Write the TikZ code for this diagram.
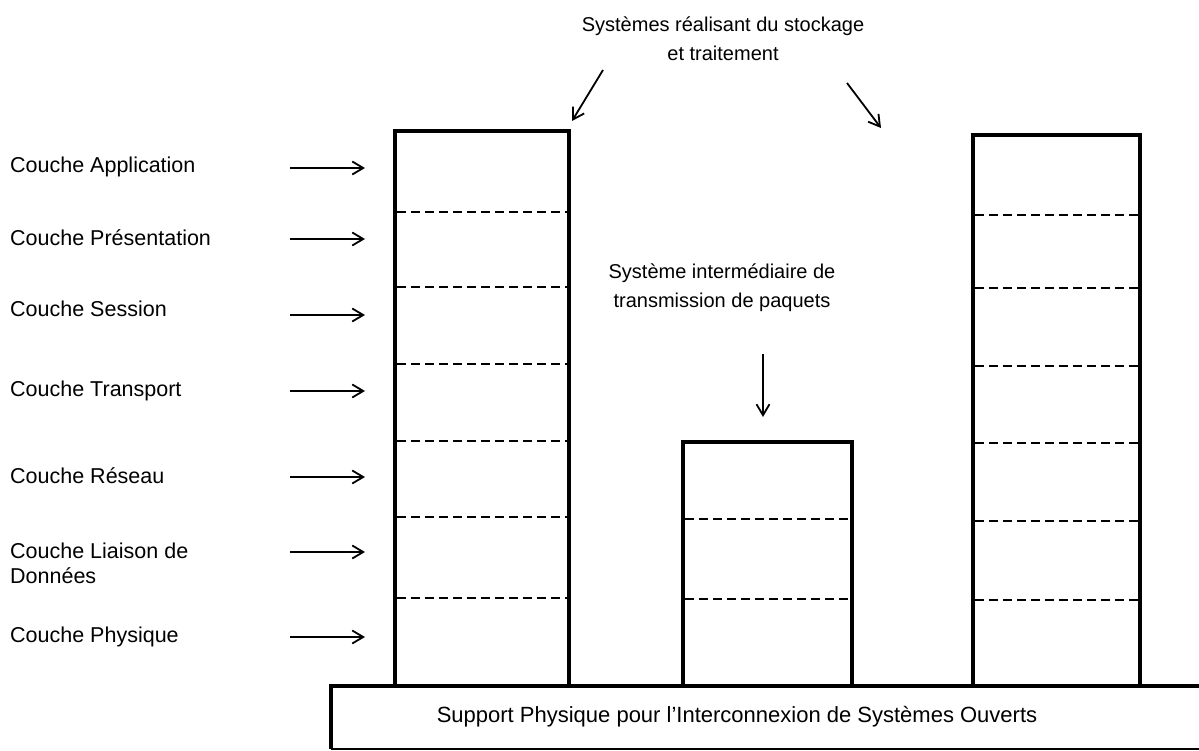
\documentclass[tikz,border=0pt]{standalone}
\usepackage{fontspec}
\setmainfont{Liberation Sans}
\usetikzlibrary{arrows.meta}
\begin{document}
\begin{tikzpicture}[x=1pt,y=-1pt,
  lbl/.style={anchor=west,inner sep=0pt,font=\fontsize{21.5}{25}\selectfont},
  caption/.style={align=center,inner sep=0pt,font=\fontsize{20}{29}\selectfont},
  stack/.style={line width=3.6pt,line join=miter},
  layer/.style={line width=1.8pt,dash pattern=on 9pt off 5pt},
  ptr/.style={line width=1.8pt,-{Straight Barb[length=11pt,width=13pt,line width=1.8pt]}}]
\useasboundingbox (0,0) rectangle (1199,751);
\fill[white] (0,0) rectangle (1199,751);

% layer names and their arrows
\foreach \n/\t/\y in {app/Couche Application/167, pres/Couche Présentation/238,
    sess/Couche Session/309, tran/Couche Transport/391, res/Couche Réseau/476,
    phy/Couche Physique/637}{
  \node[lbl] (\n) at (10,\y) {\t};
}
\node[lbl,align=left] (liai) at (10,563) {Couche Liaison de\\Données};
\foreach \n/\y in {a/168,b/239,c/315,d/391,e/477,f/552,g/637}{
  \coordinate (\n0) at (290,\y);
  \coordinate (\n1) at (365,\y);
  \draw[ptr] (\n0) -- (\n1);
}

% physical medium
\coordinate (sTL) at (331,686);
\coordinate (sTR) at (1199,686);
\coordinate (sBL) at (331,749);
\coordinate (sBR) at (1199,749);
\draw[line width=3.4pt] (sTR) -- (sTL) -- (sBL);
\draw[line width=1.2pt] (sBL) -- (sBR);
\node[inner sep=0pt,font=\fontsize{22}{25}\selectfont] (supp) at (737,717)
  {Support Physique pour l'Interconnexion de Systèmes Ouverts};

% left end system
\draw[stack] (395,686) -- (395,131) -- (569,131) -- (569,686);
\foreach \y in {212,287,364,441,517,598}{
  \draw[layer] (397,\y) -- (567,\y);
}
\coordinate (ltop) at (572,121);

% right end system
\draw[stack] (973,686) -- (973,135) -- (1140,135) -- (1140,686);
\foreach \y in {215,288,366,443,521,600}{
  \draw[layer] (975,\y) -- (1138,\y);
}
\coordinate (rtop) at (881,128);

% intermediate system
\draw[stack] (683,686) -- (683,442) -- (852,442) -- (852,686);
\foreach \y in {519,599}{
  \draw[layer] (685,\y) -- (850,\y);
}
\coordinate (mtop) at (763,417);

% captions
\node[caption] (endsys) at (723,39) {Systèmes réalisant du stockage\\et traitement};
\coordinate (el) at (603,70);
\coordinate (er) at (847,83);
\draw[ptr] (el) -- (ltop);
\draw[ptr] (er) -- (rtop);

\node[caption] (midsys) at (722,288) {Système intermédiaire de\\transmission de paquets};
\coordinate (mm) at (763,354);
\draw[ptr] (mm) -- (mtop);
\end{tikzpicture}
\end{document}
